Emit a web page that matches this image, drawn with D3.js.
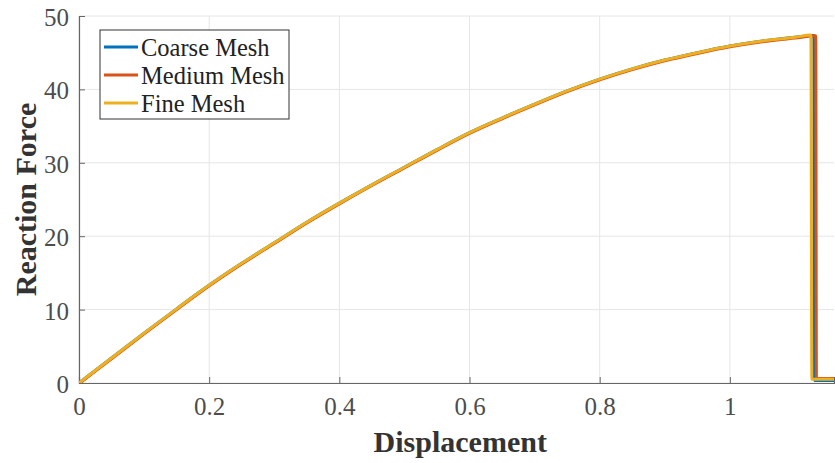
<!DOCTYPE html>
<html>
<head>
<meta charset="utf-8">
<script src="https://cdn.jsdelivr.net/npm/d3@7"></script>
<style>
    body { margin: 0; background: #fff; }
    text { font-family: "Liberation Serif", "Times New Roman", serif; }
</style>
</head>
<body>
<div id="chart"></div>
<script>
// data
const seriesNames = ['Coarse Mesh', 'Medium Mesh', 'Fine Mesh'];
const seriesColors = ['#0072BD', '#D95319', '#EDB120'];

const dispBase = [0, 0.05, 0.1, 0.15, 0.19, 0.25, 0.3, 0.35, 0.4, 0.45, 0.5, 0.55, 0.6,
    0.65, 0.7, 0.75, 0.8, 0.85, 0.9, 0.95, 1.0, 1.05, 1.1];
const forceBase = [0, 3.4, 6.8, 10.1, 12.7, 16.3, 19.1, 21.9, 24.5, 27.0, 29.4, 31.8, 34.1,
    36.1, 38.0, 39.8, 41.4, 42.8, 44.0, 45.0, 45.9, 46.6, 47.1];

const coarseDisp = [...dispBase, 1.129, 1.13, 1.16];
const coarseForce = [...forceBase, 47.35, 0.35, 0.35];

const mediumDisp = [...dispBase, 1.132, 1.133, 1.16];
const mediumForce = [...forceBase.map(f => f - 0.1), 47.3, 0.6, 0.6];

const fineDisp = [...dispBase, 1.1245, 1.126, 1.16];
const fineForce = [...forceBase, 47.4, 0.5, 0.5];

const xTicks = [0, 0.2, 0.4, 0.6, 0.8, 1];
const yTicks = [0, 10, 20, 30, 40, 50];

const allSeries = [
    { name: seriesNames[0], color: seriesColors[0], xs: coarseDisp, ys: coarseForce },
    { name: seriesNames[1], color: seriesColors[1], xs: mediumDisp, ys: mediumForce },
    { name: seriesNames[2], color: seriesColors[2], xs: fineDisp, ys: fineForce }
];

const dimensions = { width: 835, height: 463 };
const margin = { top: 16, right: 1, bottom: 80, left: 79 };
const graphWidth = dimensions.width - margin.left - margin.right;
const graphHeight = dimensions.height - margin.top - margin.bottom;

const svg = d3.select('#chart')
    .append('svg')
    .attr('width', dimensions.width)
    .attr('height', dimensions.height);

const graph = svg.append('g')
    .attr('transform', `translate(${margin.left}, ${margin.top})`);

// scales
const x = d3.scaleLinear().domain([0, 1.16]).range([0, graphWidth]);
const y = d3.scaleLinear().domain([0, 50]).range([graphHeight, 0]);

// grid
graph.append('g')
    .selectAll('line')
    .data(xTicks)
    .enter().append('line')
        .attr('x1', d => x(d)).attr('x2', d => x(d))
        .attr('y1', 0).attr('y2', graphHeight)
        .attr('stroke', '#e6e6e6');

graph.append('g')
    .selectAll('line')
    .data(yTicks)
    .enter().append('line')
        .attr('x1', 0).attr('x2', graphWidth)
        .attr('y1', d => y(d)).attr('y2', d => y(d))
        .attr('stroke', '#e6e6e6');

// axes, ticks inside
const xAxis = d3.axisBottom(x).tickValues(xTicks).tickSize(-6).tickPadding(14)
    .tickFormat(d => d === 0 ? '0' : d3.format('~g')(d));
const yAxis = d3.axisLeft(y).tickValues(yTicks).tickSize(-6).tickPadding(10);

const xAxisGroup = graph.append('g')
    .attr('transform', `translate(0, ${graphHeight})`)
    .call(xAxis);
const yAxisGroup = graph.append('g').call(yAxis);

[xAxisGroup, yAxisGroup].forEach(g => {
    g.attr('font-family', '"Liberation Serif", serif');
    g.select('.domain').attr('stroke', '#666').attr('stroke-width', 1.2);
    g.selectAll('.tick line').attr('stroke', '#666');
    g.selectAll('.tick text')
        .attr('fill', '#4d4d4d')
        .style('font-size', '25px')
        .style('font-family', '"Liberation Serif", serif');
});
yAxisGroup.selectAll('.tick text').attr('dy', '0.38em');

// clip
graph.append('clipPath').attr('id', 'clip')
    .append('rect').attr('x', 0).attr('y', -2).attr('width', graphWidth + 2).attr('height', graphHeight + 2);

const line = d3.line()
    .x(d => x(d[0]))
    .y(d => y(d[1]))
    .curve(d3.curveMonotoneX);

graph.append('g')
    .attr('clip-path', 'url(#clip)')
    .selectAll('path')
    .data(allSeries)
    .enter().append('path')
        .attr('d', s => line(s.xs.map((v, i) => [v, s.ys[i]])))
        .attr('fill', 'none')
        .attr('stroke', s => s.color)
        .attr('stroke-width', 3)
        .attr('stroke-linejoin', 'round');

// axis labels
svg.append('text')
    .attr('x', margin.left + graphWidth * 0.505)
    .attr('y', 452)
    .attr('text-anchor', 'middle')
    .attr('font-weight', 'bold')
    .attr('fill', '#333')
    .style('font-size', '30px')
    .text('Displacement');

svg.append('text')
    .attr('transform', `translate(36, ${margin.top + graphHeight / 2}) rotate(-90)`)
    .attr('text-anchor', 'middle')
    .attr('font-weight', 'bold')
    .attr('fill', '#333')
    .style('font-size', '30px')
    .text('Reaction Force');

// legend
const legend = svg.append('g').attr('transform', 'translate(100, 30)');
legend.append('rect')
    .attr('width', 189).attr('height', 89)
    .attr('fill', '#fff')
    .attr('stroke', '#333')
    .attr('stroke-width', 1);

allSeries.forEach((s, i) => {
    const ly = 17 + i * 28;
    legend.append('line')
        .attr('x1', 4).attr('x2', 38)
        .attr('y1', ly).attr('y2', ly)
        .attr('stroke', s.color)
        .attr('stroke-width', 3);
    legend.append('text')
        .attr('x', 41).attr('y', ly)
        .attr('dy', '0.35em')
        .attr('fill', '#222')
        .style('font-size', '24.5px')
        .text(s.name);
});
</script>
</body>
</html>
